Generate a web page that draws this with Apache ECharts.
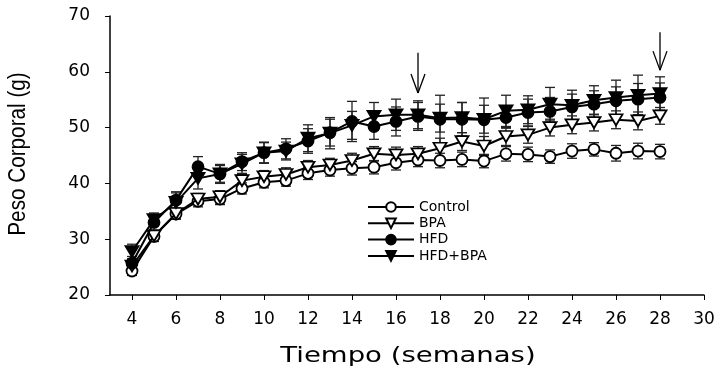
<!DOCTYPE html>
<html>
<head>
<meta charset="utf-8">
<script src="https://cdn.jsdelivr.net/npm/echarts@6/dist/echarts.min.js"></script>
<style>
  html, body { margin: 0; padding: 0; background: #fff; }
  #chart { width: 721px; height: 368px; }
</style>
</head>
<body>
<div id="chart"></div>
<script>
// ================ data =====================
const weeks = [4, 5, 6, 7, 8, 9, 10, 11, 12, 13, 14, 15, 16, 17, 18, 19, 20, 21, 22, 23, 24, 25, 26, 27, 28]
const xTicks = [4, 6, 8, 10, 12, 14, 16, 18, 20, 22, 24, 26, 28, 30]

const control = [24.3, 30.5, 34.5, 36.8, 37.2, 39.1, 40.2, 40.5, 41.8, 42.4, 42.7, 42.9, 43.7, 44.2, 44.1, 44.3, 44.0, 45.3, 45.2, 44.8, 45.8, 46.1, 45.4, 45.8, 45.7]
const controlErr = [0.8, 0.9, 0.9, 1.0, 1.0, 1.0, 1.0, 1.0, 1.1, 1.1, 1.2, 1.2, 1.3, 1.2, 1.3, 1.3, 1.2, 1.3, 1.3, 1.2, 1.3, 1.2, 1.4, 1.4, 1.3]

const bpa = [25.2, 30.6, 34.6, 37.2, 37.6, 40.5, 41.2, 41.6, 42.9, 43.3, 44.1, 45.3, 45.1, 45.3, 46.3, 47.5, 46.7, 48.4, 48.7, 50.0, 50.5, 50.9, 51.4, 51.2, 52.1]
const bpaErr = [0.9, 1.0, 1.0, 1.0, 1.1, 1.1, 1.1, 1.2, 1.2, 1.2, 1.3, 1.3, 1.4, 1.3, 1.8, 1.6, 1.7, 1.6, 1.5, 1.5, 1.6, 1.5, 1.6, 1.6, 1.5]

const hfd = [25.7, 33.0, 37.0, 43.0, 41.7, 43.9, 45.5, 46.2, 47.6, 49.1, 51.1, 50.2, 51.1, 52.0, 51.5, 51.5, 51.4, 51.8, 52.7, 52.9, 53.7, 54.2, 54.8, 55.1, 55.4]
const hfdErr = [1.2, 1.4, 1.5, 1.8, 1.5, 1.6, 1.8, 1.8, 2.2, 2.4, 3.6, 2.3, 2.6, 2.5, 4.3, 3.0, 3.9, 1.9, 2.4, 2.5, 2.3, 2.4, 2.5, 2.8, 2.6]

const hfdBpa = [27.8, 33.5, 36.6, 40.9, 41.7, 43.5, 45.5, 45.8, 48.1, 49.0, 50.4, 52.0, 52.3, 52.3, 51.7, 51.8, 51.5, 53.0, 53.2, 54.2, 54.0, 54.9, 55.4, 55.8, 56.1]
const hfdBpaErr = [1.3, 1.2, 1.7, 1.9, 1.7, 1.7, 1.9, 1.6, 2.4, 2.8, 2.5, 2.5, 2.8, 2.5, 2.5, 2.7, 2.5, 2.8, 2.5, 3.0, 2.7, 2.6, 3.1, 3.6, 3.0]

// arrows: [week, top value, tip value]
const arrows = [[17, 63.4, 56.2], [28, 67.1, 60.3]]

// ================ helpers =====================
const toPoints = (vals) => weeks.map((w, i) => [w, vals[i]])
const toErr = (vals, errs) => weeks.map((w, i) => [w, vals[i] - errs[i], vals[i] + errs[i]])

const errRender = (params, api) => {
  const x = api.value(0)
  const lo = api.coord([x, api.value(1)])
  const hi = api.coord([x, api.value(2)])
  const hw = 5
  const style = { stroke: '#222', lineWidth: 1.3 }
  return {
    type: 'group',
    children: [
      { type: 'line', shape: { x1: lo[0], y1: lo[1], x2: hi[0], y2: hi[1] }, style },
      { type: 'line', shape: { x1: hi[0] - hw, y1: hi[1], x2: hi[0] + hw, y2: hi[1] }, style },
      { type: 'line', shape: { x1: lo[0] - hw, y1: lo[1], x2: lo[0] + hw, y2: lo[1] }, style }
    ]
  }
}

const arrowRender = (params, api) => {
  const x = api.value(0)
  const top = api.coord([x, api.value(1)])
  const tip = api.coord([x, api.value(2)])
  const style = { stroke: '#000', lineWidth: 1.3 }
  return {
    type: 'group',
    children: [
      { type: 'line', shape: { x1: top[0], y1: top[1], x2: tip[0], y2: tip[1] }, style },
      { type: 'line', shape: { x1: tip[0] - 7, y1: tip[1] - 19, x2: tip[0], y2: tip[1] }, style },
      { type: 'line', shape: { x1: tip[0] + 7, y1: tip[1] - 19, x2: tip[0], y2: tip[1] }, style }
    ]
  }
}

const lineSeries = (name, vals, symbol, fill, z) => ({
  name,
  type: 'line',
  data: toPoints(vals),
  symbol,
  symbolRotate: symbol === 'triangle' ? 180 : 0,
  symbolSize: symbol === 'triangle' ? [13, 11] : 11,
  showAllSymbol: true,
  z,
  lineStyle: { color: '#000', width: 2 },
  itemStyle: { color: fill, borderColor: '#000', borderWidth: 1.8 },
  emphasis: { disabled: true }
})

const errSeries = (vals, errs) => ({
  type: 'custom',
  renderItem: errRender,
  data: toErr(vals, errs),
  z: 1,
  silent: true
})

// ================ chart =====================
const chart = echarts.init(document.getElementById('chart'))
chart.setOption({
  animation: false,
  backgroundColor: '#fff',
  grid: { left: 110, right: 17, top: 16, bottom: 73 },
  legend: {
    data: ['Control', 'BPA', 'HFD', 'HFD+BPA'],
    orient: 'vertical',
    left: 362,
    top: 195,
    itemWidth: 46,
    itemHeight: 12,
    itemGap: 2.3,
    textStyle: { color: '#000', fontSize: 14, lineHeight: 14, fontFamily: 'DejaVu Sans' }
  },
  xAxis: {
    type: 'value',
    min: 3,
    max: 30,
    axisLine: { lineStyle: { color: '#000', width: 1.5 } },
    axisTick: { customValues: xTicks, length: 5, lineStyle: { color: '#000' } },
    axisLabel: {
      customValues: xTicks,
      margin: 16,
      color: '#000',
      fontSize: 17,
      fontFamily: 'DejaVu Sans'
    },
    splitLine: { show: false }
  },
  yAxis: {
    type: 'value',
    min: 20,
    max: 70,
    interval: 10,
    axisLine: { show: true, lineStyle: { color: '#000', width: 1.5 } },
    axisTick: { show: true, length: 5, lineStyle: { color: '#000' } },
    axisLabel: { margin: 20, color: '#000', fontSize: 17, fontFamily: 'DejaVu Sans' },
    splitLine: { show: false }
  },
  graphic: [
    {
      type: 'text',
      x: 408,
      y: 356,
      scaleX: 1.25,
      style: {
        text: 'Tiempo (semanas)',
        fill: '#000',
        font: '22px "DejaVu Sans"',
        textAlign: 'center',
        textVerticalAlign: 'middle'
      }
    },
    {
      type: 'text',
      x: 19,
      y: 154,
      rotation: Math.PI / 2,
      scaleX: 0.9,
      style: {
        text: 'Peso Corporal (g)',
        fill: '#000',
        font: '23px "Liberation Sans"',
        textAlign: 'center',
        textVerticalAlign: 'middle'
      }
    }
  ],
  series: [
    errSeries(control, controlErr),
    errSeries(bpa, bpaErr),
    errSeries(hfd, hfdErr),
    errSeries(hfdBpa, hfdBpaErr),
    lineSeries('Control', control, 'circle', '#fff', 2),
    lineSeries('BPA', bpa, 'triangle', '#fff', 3),
    lineSeries('HFD', hfd, 'circle', '#000', 4),
    lineSeries('HFD+BPA', hfdBpa, 'triangle', '#000', 5),
    {
      type: 'custom',
      renderItem: arrowRender,
      data: arrows,
      z: 6,
      silent: true
    }
  ]
})
</script>
</body>
</html>
